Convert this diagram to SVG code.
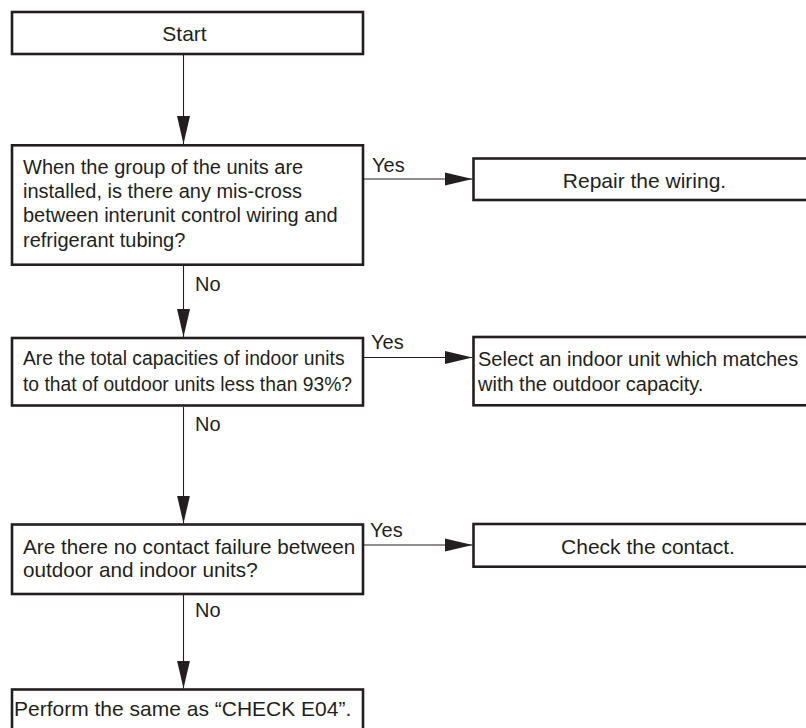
<svg xmlns="http://www.w3.org/2000/svg" width="806" height="728" viewBox="0 0 806 728">
<style>
.box{fill:#ffffff;stroke:#231f20;stroke-width:2.6}
.t{font-family:"Liberation Sans",Arial,sans-serif;fill:#231f20;font-size:20px}
.big{font-size:21px}
.c{text-anchor:middle}
.conn{stroke:#231f20;stroke-width:1.1;fill:none}
</style>
<defs>
<marker id="ah" markerUnits="userSpaceOnUse" markerWidth="28" markerHeight="14" refX="28" refY="7" orient="auto">
<path d="M0,0.5 L28,7 L0,13.5 z" fill="#231f20"/>
</marker>
</defs>
<rect width="806" height="728" fill="#ffffff"/>
<g id="connectors">
<line class="conn" x1="183.5" y1="55" x2="183.5" y2="144" marker-end="url(#ah)"/>
<line class="conn" x1="183.5" y1="266" x2="183.5" y2="337" marker-end="url(#ah)"/>
<line class="conn" x1="183.5" y1="407" x2="183.5" y2="523.5" marker-end="url(#ah)"/>
<line class="conn" x1="183.5" y1="595" x2="183.5" y2="688.5" marker-end="url(#ah)"/>
<line class="conn" x1="363" y1="179" x2="472.5" y2="179" marker-end="url(#ah)"/>
<line class="conn" x1="363" y1="357.5" x2="472.5" y2="357.5" marker-end="url(#ah)"/>
<line class="conn" x1="363" y1="545" x2="472.5" y2="545" marker-end="url(#ah)"/>
<text class="t" x="372" y="172">Yes</text>
<text class="t" x="371" y="349">Yes</text>
<text class="t" x="370" y="537">Yes</text>
<text class="t" x="195" y="291">No</text>
<text class="t" x="195" y="431">No</text>
<text class="t" x="195" y="617">No</text>
</g>
<g id="start">
<rect class="box" x="12" y="12" width="351" height="42"/>
<text class="t big c" x="184.5" y="41">Start</text>
</g>
<g id="decision1">
<rect class="box" x="12" y="145.3" width="351" height="119.4"/>
<text class="t" x="23" y="173.5">When the group of the units are</text>
<text class="t" x="23" y="198">installed, is there any mis-cross</text>
<text class="t" x="23" y="222.3">between interunit control wiring and</text>
<text class="t" x="23" y="246.7">refrigerant tubing?</text>
</g>
<g id="repair">
<rect class="box" x="473.5" y="158.5" width="340" height="41.5"/>
<text class="t big c" x="644.5" y="188.3">Repair the wiring.</text>
</g>
<g id="decision2">
<rect class="box" x="12" y="338" width="351" height="67.5"/>
<text class="t" x="23" y="365" style="font-size:19.3px">Are the total capacities of indoor units</text>
<text class="t" x="23" y="390.5" style="font-size:19.3px">to that of outdoor units less than 93%?</text>
</g>
<g id="select">
<rect class="box" x="473.5" y="337" width="340" height="68.3"/>
<text class="t" x="478" y="365.7">Select an indoor unit which matches</text>
<text class="t" x="478" y="390.7">with the outdoor capacity.</text>
</g>
<g id="decision3">
<rect class="box" x="12" y="524.5" width="351" height="69.5"/>
<text class="t" x="23" y="554" style="font-size:20.7px">Are there no contact failure between</text>
<text class="t" x="23" y="577.3" style="font-size:20.7px">outdoor and indoor units?</text>
</g>
<g id="check">
<rect class="box" x="473.5" y="524" width="340" height="42.7"/>
<text class="t big c" x="648" y="554.3">Check the contact.</text>
</g>
<g id="final">
<rect class="box" x="12" y="689.5" width="351" height="60"/>
<text class="t big" x="14" y="716">Perform the same as “CHECK E04”.</text>
</g>
</svg>
